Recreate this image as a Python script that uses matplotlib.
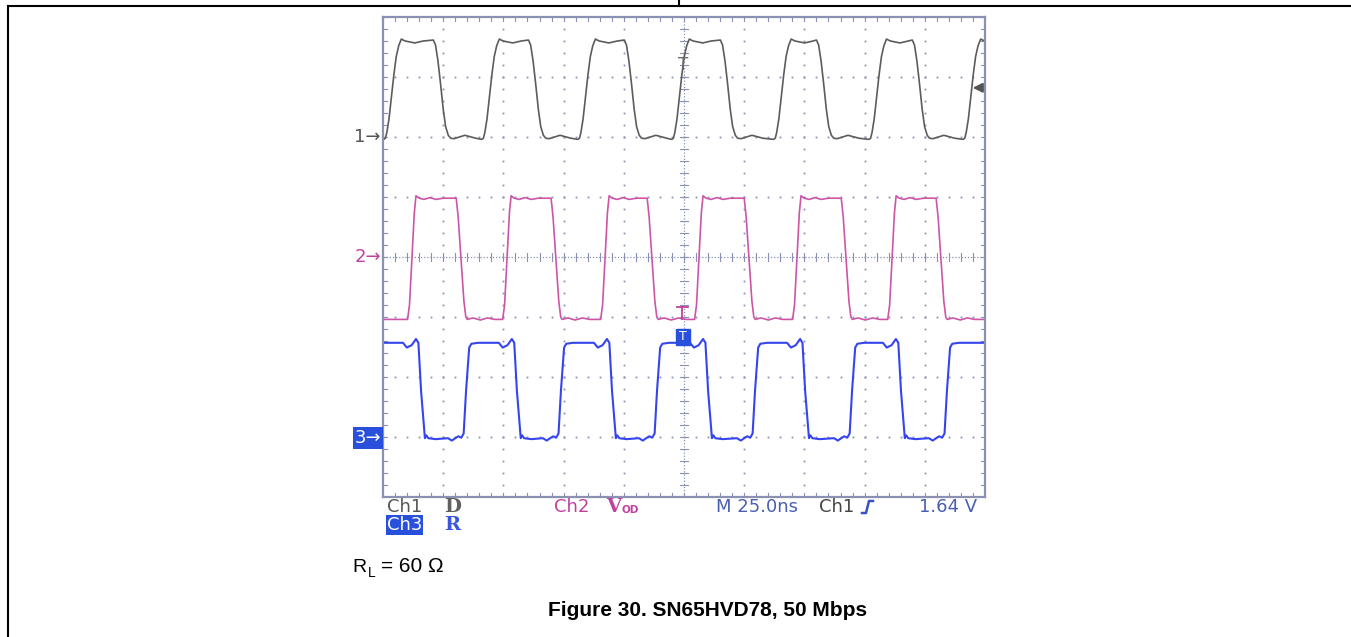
import numpy as np
import matplotlib
matplotlib.use("Agg")
import matplotlib.pyplot as plt
from matplotlib.lines import Line2D
from matplotlib.patches import Rectangle

# scope screen: 25 ns/div, 10 x 8 divisions, y in divisions from centre
NS_PER_DIV = 25.0

# edge times (ns, mid-level crossing)
ch1_rise = [3.7, 44.4, 84.3, 123.3, 165.6, 205.2, 244.3]
ch1_fall = [24.5, 64.0, 103.8, 143.7, 183.6, 223.4]
ch2_rise = [12.0, 51.5, 92.2, 131.2, 171.9, 211.4]
ch2_fall = [32.4, 71.8, 111.7, 152.0, 192.3, 231.7]
ch3_fall = [15.8, 55.6, 95.1, 135.0, 175.3, 215.1]
ch3_rise = [34.5, 73.9, 113.8, 154.5, 194.8, 234.2]

# low / high levels (divisions)
ch1_lo, ch1_hi = 1.98, 3.60
ch2_lo, ch2_hi = -1.04, 0.98
ch3_lo, ch3_hi = -3.02, -1.43

# edge shapes: (ns from edge, fraction of swing)
ch1_rise_shape = [(-3.4, -0.012), (-2.7, 0.0), (-2.1, 0.06), (-1.2, 0.2), (-0.3, 0.4),
                  (0.8, 0.65), (1.8, 0.84), (2.8, 0.95), (3.9, 1.02), (5.5, 1.0),
                  (9.5, 0.98), (13, 1.0)]
ch1_fall_shape = [(-3.6, 1.01), (-2.7, 0.96), (-1.7, 0.8), (-0.6, 0.56), (0.5, 0.3),
                  (1.5, 0.12), (2.6, 0.03), (3.6, 0.0), (5, -0.005), (9.5, 0.03), (14, 0.0)]
ch2_rise_shape = [(-1.8, 0.0), (-1.0, 0.12), (0, 0.5), (1.0, 0.88), (1.7, 1.02), (3, 1.0),
                  (5, 0.99), (7.5, 1.005), (10, 0.99), (13, 1.0)]
ch2_fall_shape = [(-2.0, 1.0), (-1.2, 0.85), (0, 0.5), (1.2, 0.15), (2.0, 0.02), (2.6, 0.0),
                  (5, 0.012), (8, -0.005), (11, 0.012), (14, 0.0)]
ch3_fall_shape = [(-7.5, 1.0), (-5.9, 0.95), (-3.9, 0.975), (-2.1, 1.04), (-1.1, 1.0),
                  (0, 0.5), (1.6, 0.0), (2.2, 0.03), (3, 0.0), (6, -0.01)]
ch3_rise_shape = [(-7.5, 0.0), (-5.9, -0.025), (-4.5, 0.0), (-3.2, 0.02), (-2.0, 0.005),
                  (-1.0, 0.05), (0, 0.5), (1.3, 0.95), (2.2, 0.99), (5, 1.0)]


def build_trace(rises, falls, lo, hi, rshape, fshape, start, end):
    pts = [(0.0, start)]
    for t in rises:
        pts += [(t + dt, lo + f * (hi - lo)) for dt, f in rshape]
    for t in falls:
        pts += [(t + dt, lo + f * (hi - lo)) for dt, f in fshape]
    pts.sort()
    pts.append((250.0, end))
    t, v = zip(*pts)
    return np.array(t) / NS_PER_DIV, np.array(v)


W, H = 1351, 637
def fx(x):
    return x / W
def fy(y):
    return 1 - y / H

fig = plt.figure(figsize=(W / 100, H / 100), dpi=100)
fig.patch.set_facecolor("white")

# page frame lines
for xs, ys in [([8, 8], [6, H]), ([8, W], [6, 6]), ([679, 679], [0, 6])]:
    fig.add_artist(Line2D([fx(x) for x in xs], [fy(y) for y in ys], color="black", lw=1.5))

ax = fig.add_axes([fx(383), fy(497), (985 - 383) / W, (497 - 17) / H])
ax.set_xlim(0, 10)
ax.set_ylim(-4, 4)
ax.set_xticks([])
ax.set_yticks([])
gridc = "#8a91b2"
for s in ax.spines.values():
    s.set_color(gridc)
    s.set_linewidth(1.6)

# graticule
mx = np.arange(0, 10.001, 0.2)
my = np.arange(-4, 4.001, 0.2)
for gx in range(1, 10):
    if gx == 5:
        continue
    ax.plot(np.full_like(my, gx), my, ls="none", marker="s", ms=1.3, mew=0, color=gridc)
for gy in range(-3, 4):
    if gy == 0:
        continue
    ax.plot(mx, np.full_like(mx, gy), ls="none", marker="s", ms=1.3, mew=0, color=gridc)
ax.axvline(5, color=gridc, lw=0.9, ls=(0, (1, 1.5)))
ax.axhline(0, color=gridc, lw=0.9, ls=(0, (1, 1.5)))
for x in mx:
    ax.plot([x, x], [-0.06, 0.06], color=gridc, lw=0.8)
    ax.plot([x, x], [-4, -3.93], color=gridc, lw=0.8)
    ax.plot([x, x], [4, 3.93], color=gridc, lw=0.8)
for y in my:
    ax.plot([4.94, 5.06], [y, y], color=gridc, lw=0.8)
    ax.plot([0, 0.07], [y, y], color=gridc, lw=0.8)
    ax.plot([10, 9.93], [y, y], color=gridc, lw=0.8)

# traces
t1, v1 = build_trace(ch1_rise, ch1_fall, ch1_lo, ch1_hi, ch1_rise_shape, ch1_fall_shape, ch1_lo, ch1_hi)
t2, v2 = build_trace(ch2_rise, ch2_fall, ch2_lo, ch2_hi, ch2_rise_shape, ch2_fall_shape, ch2_lo, ch2_lo)
t3, v3 = build_trace(ch3_rise, ch3_fall, ch3_lo, ch3_hi, ch3_rise_shape, ch3_fall_shape, ch3_hi, ch3_hi)
ax.plot(t1, v1, color="#5c5c5c", lw=1.2)
ax.plot(t2, v2, color="#cc55aa", lw=1.2)
ax.plot(t3, v3, color="#3545ee", lw=1.5)

# on-screen markers
ax.text(4.98, 3.2, "T", color="#6a6a6a", fontsize=12, ha="center", va="center")
ax.annotate("", xy=(9.75, 2.82), xytext=(9.97, 2.82),
            arrowprops=dict(arrowstyle="-|>", color="#555555", lw=1.5, mutation_scale=14))
ax.plot([4.88, 5.06], [-0.83, -0.83], color="#c0409c", lw=1.3)
ax.plot([4.97, 4.97], [-0.83, -1.03], color="#c0409c", lw=1.3)
ax.add_patch(Rectangle((4.86, -1.46), 0.24, 0.26, color="#2850dc", zorder=5))
ax.text(4.98, -1.33, "T", color="white", fontsize=9, ha="center", va="center", zorder=6)

# channel labels on the left
fig.text(fx(381), fy(137), "1→", color="#555555", fontsize=13, ha="right", va="center")
fig.text(fx(381), fy(257), "2→", color="#c040a0", fontsize=13, ha="right", va="center")
fig.text(fx(381), fy(438), "3→", color="white", fontsize=13, ha="right", va="center",
         bbox=dict(boxstyle="square,pad=0.1", fc="#2850dc", ec="none"))

# scope status text
sans = "DejaVu Sans"
slab = "DejaVu Serif"
fig.text(fx(387), fy(507), "Ch1", family=sans, fontsize=13, color="#555555", va="center")
fig.text(fx(444), fy(507), "D", family=slab, fontsize=14, weight="bold", color="#606060", va="center")
fig.text(fx(387), fy(525), "Ch3", family=sans, fontsize=13, color="white", va="center",
         bbox=dict(boxstyle="square,pad=0.05", fc="#2850dc", ec="none"))
fig.text(fx(444), fy(525), "R", family=slab, fontsize=14, weight="bold", color="#3a55e0", va="center")
fig.text(fx(554), fy(507), "Ch2", family=sans, fontsize=13, color="#c040a0", va="center")
fig.text(fx(606), fy(507), "V", family=slab, fontsize=14, weight="bold", color="#c040a0", va="center")
fig.text(fx(621), fy(510), "OD", family=sans, fontsize=7.5, weight="bold", color="#c040a0", va="center")
fig.text(fx(716), fy(507), "M 25.0ns", family=sans, fontsize=13, color="#4a5fb0", va="center")
fig.text(fx(819), fy(507), "Ch1", family=sans, fontsize=13, color="#444444", va="center")
fig.add_artist(Line2D([fx(862), fx(866), fx(869), fx(873)], [fy(513), fy(513), fy(501), fy(501)],
                      color="#3a50c0", lw=1.8))
fig.text(fx(977), fy(507), "1.64 V", family=sans, fontsize=13, color="#4a5fb0", va="center", ha="right")

# caption
cap = "Liberation Sans"
fig.text(fx(352), fy(572), "R", family=cap, fontsize=14, color="black", va="baseline")
fig.text(fx(368), fy(577), "L", family=cap, fontsize=10, color="black", va="baseline")
fig.text(fx(381), fy(572), "= 60 Ω", family=cap, fontsize=15, color="black", va="baseline")
fig.text(fx(708), fy(611), "Figure 30. SN65HVD78, 50 Mbps", family=cap, fontsize=15,
         weight="bold", color="black", ha="center", va="center")

fig.savefig("out.png", dpi=100, facecolor="white")
